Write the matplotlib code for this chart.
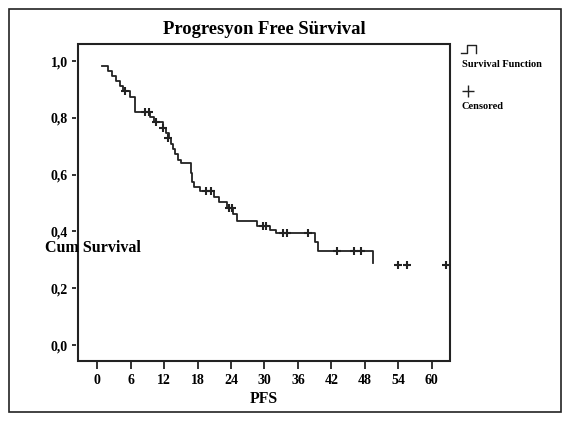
import matplotlib.pyplot as plt
from matplotlib.patches import Rectangle
from matplotlib.lines import Line2D

# step curve: time of drop and survival level after it
step_t = [0.8, 2.0, 2.6, 3.3, 4.0, 4.6, 5.8, 6.8, 9.4, 10.2, 11.8, 12.3, 12.8,
          13.3, 13.6, 14.0, 14.5, 15.1, 16.8, 17.0, 17.3, 18.5, 21.0, 21.8,
          23.2, 24.4, 25.1, 28.7, 31.0, 32.0, 39.1, 39.7, 49.4]
step_s = [0.982, 0.964, 0.946, 0.929, 0.911, 0.893, 0.875, 0.821, 0.803, 0.785,
          0.766, 0.747, 0.728, 0.709, 0.690, 0.671, 0.652, 0.640, 0.605, 0.574,
          0.558, 0.541, 0.522, 0.503, 0.484, 0.463, 0.437, 0.419, 0.405, 0.394,
          0.364, 0.332, 0.288]

# censored observations
cens_t = [5.0, 8.6, 9.2, 10.5, 11.8, 12.7, 19.6, 20.5, 23.7, 24.1, 29.7, 30.3,
          33.4, 34.1, 37.9, 43.0, 46.0, 47.3, 54.0, 55.6, 62.5]
cens_s = [0.893, 0.821, 0.821, 0.785, 0.766, 0.728, 0.541, 0.541, 0.484, 0.484,
          0.419, 0.419, 0.394, 0.394, 0.394, 0.332, 0.332, 0.332, 0.282, 0.282, 0.282]

x_ticks = [0, 6, 12, 18, 24, 30, 36, 42, 48, 54, 60]
y_ticks = [0.0, 0.2, 0.4, 0.6, 0.8, 1.0]
y_labels = ['0,0', '0,2', '0,4', '0,6', '0,8', '1,0']

plt.rcParams['font.family'] = ['Liberation Serif', 'DejaVu Serif']
plt.rcParams['font.weight'] = 'bold'

fig = plt.figure(figsize=(5.7, 4.25), dpi=100)
ax = fig.add_axes([0.1368, 0.1506, 0.6526, 0.7459])

ax.step(step_t, step_s, where='post', color='#222222', lw=1.3)
ax.plot(cens_t, cens_s, '+', color='#222222', ms=5.5, mew=1.5)

ax.set_xlim(-3.46, 63.29)
ax.set_ylim(-0.056, 1.06)
ax.set_xticks(x_ticks)
ax.set_xticklabels([str(v) for v in x_ticks])
ax.set_yticks(y_ticks)
ax.set_yticklabels(y_labels)

ax.spines['left'].set_position(('outward', 1.5))
ax.spines['bottom'].set_position(('outward', 0.8))
for side in ax.spines:
    ax.spines[side].set_visible(False)
ax.add_patch(Rectangle((0, 0), 1, 1, transform=ax.transAxes, fill=False,
                       lw=1.5, color='#222222', clip_on=False))
ax.tick_params(axis='x', direction='out', length=4.8, width=1.3, color='#222222',
               labelsize=10, pad=4)
ax.tick_params(axis='y', direction='out', length=3.2, width=1.3, color='#222222',
               labelsize=10, pad=2.5)

ax.set_xlabel('PFS', fontsize=11.3, fontweight='bold', labelpad=3)
ax.set_title('Progresyon Free Sürvival', fontsize=13.4, fontweight='bold', pad=7)
fig.text(0.079, 0.416, 'Cum Survival', fontsize=11.5, fontweight='bold',
         va='center', ha='left')

# legend
fig.add_artist(Line2D([0.809, 0.819, 0.819, 0.835, 0.835],
                      [0.875, 0.875, 0.894, 0.894, 0.875],
                      transform=fig.transFigure, color='#222222', lw=1.0))
fig.text(0.810, 0.849, 'Survival Function', fontsize=7.5, fontweight='bold', va='center')
fig.add_artist(Line2D([0.821], [0.786], transform=fig.transFigure, marker='+',
                      ms=8, mew=1.0, color='#222222'))
fig.text(0.810, 0.749, 'Censored', fontsize=7.5, fontweight='bold', va='center')

fig.add_artist(Rectangle((0.016, 0.03), 0.968, 0.95, transform=fig.transFigure,
                         fill=False, lw=1.2, color='#222222'))

fig.savefig('out.png', dpi=100)
